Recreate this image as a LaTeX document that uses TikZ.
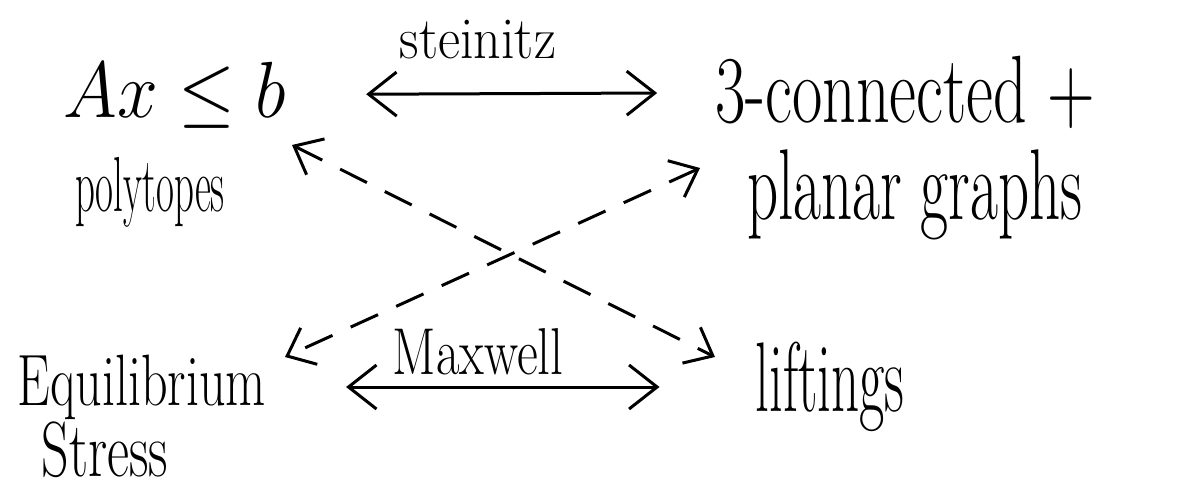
\documentclass[tikz,border=0pt]{standalone}
\usetikzlibrary{arrows.meta}
\newcommand{\hw}[3]{\scalebox{1}[#2]{\fontsize{#1}{#1}\selectfont #3}}
\begin{document}
\begin{tikzpicture}[x=0.5pt,y=-0.5pt,
  lbl/.style={inner sep=0pt, outer sep=0pt},
  dbl/.style={line width=1.5pt, {Straight Barb[length=14pt,width=22pt]}-{Straight Barb[length=14pt,width=22pt]}},
  dsh/.style={line width=1.5pt, dash pattern=on 15pt off 10pt, {Straight Barb[length=12pt,width=20pt]}-{Straight Barb[length=12pt,width=20pt]}}]
\useasboundingbox (0,0) rectangle (1189,493);
\node[lbl] (ax) at (175,95) {\scalebox{1.47}[1.6]{\fontsize{36}{36}\selectfont $Ax \leq b$}};
\node[lbl] (poly) at (150,192) {\hw{19.5}{2}{polytopes}};
\node[lbl] (stein) at (478,40) {\hw{27}{1.1}{steinitz}};
\node[lbl] (conn) at (905,92) {\hw{33}{1.45}{3-connected +}};
\node[lbl] (plan) at (915,195) {\hw{30.5}{1.65}{planar graphs}};
\node[lbl] (equil) at (142,387) {\hw{26}{1.4}{Equilibrium}};
\node[lbl] (stress) at (105,450) {\hw{27}{1.45}{Stress}};
\node[lbl] (maxw) at (478,352) {\hw{25.5}{1.3}{Maxwell}};
\node[lbl] (lift) at (830,387) {\hw{27.5}{1.8}{liftings}};
\draw[dbl, shorten <=40pt, shorten >=29pt] (ax) -- (conn);
\draw[dbl, shorten <=40pt, shorten >=48pt] (equil) -- (lift);
\coordinate (d1s) at (292,145);
\coordinate (d1e) at (715,357);
\coordinate (d2s) at (700,168);
\coordinate (d2e) at (285,357);
\draw[dsh] (d1s) -- (d1e);
\draw[dsh] (d2s) -- (d2e);
\end{tikzpicture}
\end{document}
